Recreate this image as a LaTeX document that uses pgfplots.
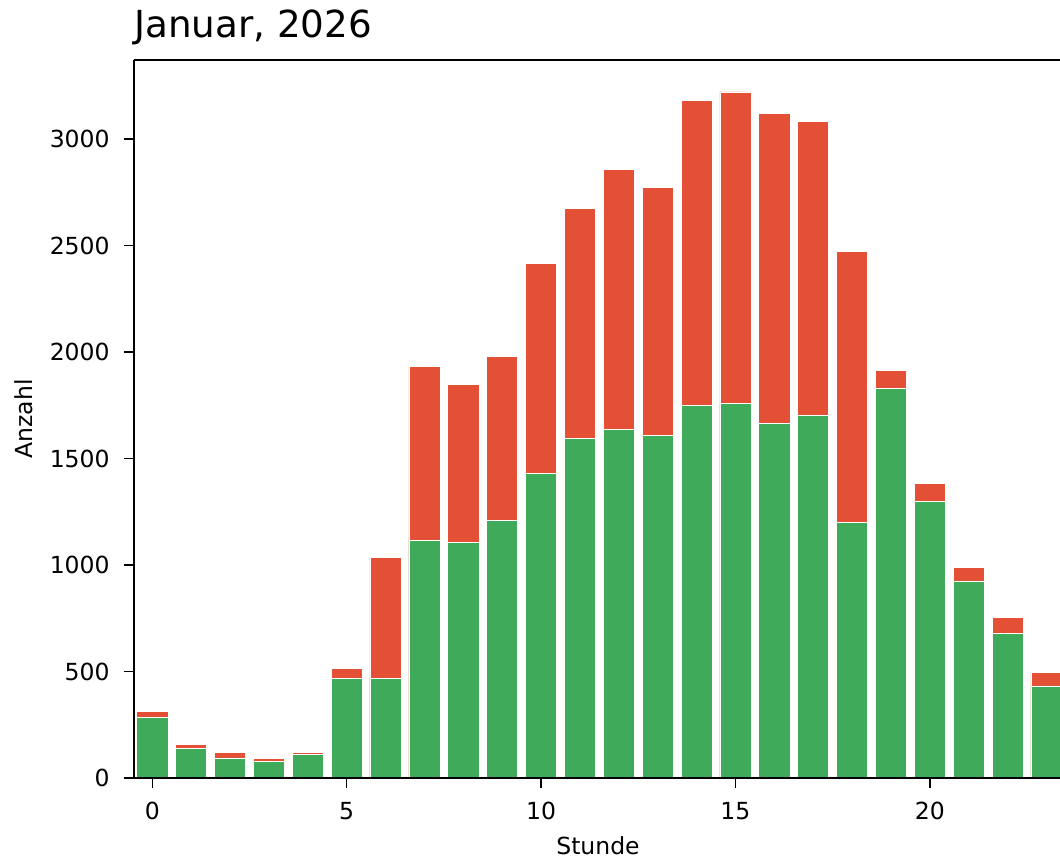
\documentclass[border=0pt]{standalone}
\usepackage{fontspec}
\setmainfont{DejaVu Sans}
\usepackage{pgfplots}
\usepackage{pgfplotstable}
\pgfplotsset{compat=1.18}

\definecolor{barred}{RGB}{228,80,54}
\definecolor{bargreen}{RGB}{62,170,90}

% Stunde, gesamt, gruen
\pgfplotstableread{
h total green
0 311 285
1 158 139
2 122 94
3 92 77
4 122 111
5 513 468
6 1034 468
7 1931 1117
8 1848 1108
9 1978 1208
10 2416 1429
11 2673 1593
12 2856 1638
13 2773 1610
14 3183 1748
15 3221 1757
16 3120 1665
17 3083 1703
18 2471 1199
19 1912 1829
20 1382 1299
21 989 925
22 753 679
23 494 432
}\hourdata

\begin{document}
\begin{tikzpicture}
\useasboundingbox (-67bp,-42bp) rectangle (463bp,389bp);
\begin{axis}[
  scale only axis,
  width=464bp, height=359bp,
  xmin=-0.47, xmax=23.4,
  ymin=0, ymax=3371,
  xtick={0,5,10,15,20},
  ytick={0,500,...,3000},
  axis on top,
  axis x line*=bottom, axis y line*=left,
  axis line style={-, black, line width=0.7bp},
  tick align=outside,
  major tick length=5bp,
  tick style={black, line width=0.7bp},
  /pgf/number format/assume math mode=true,
  /pgf/number format/set thousands separator={},
  scaled y ticks=false,
  yticklabel style={inner sep=0pt, xshift=-7bp, font=\fontsize{11.8}{14}\selectfont},
  xticklabel style={inner sep=0pt, yshift=-7bp, font=\fontsize{11.8}{14}\selectfont},
  ybar, bar width=0.8, bar shift=0pt,
]
\addplot[fill=barred, draw=white, line width=0.3bp] table[x=h, y=total] {\hourdata};
\addplot[fill=bargreen, draw=white, line width=0.3bp] table[x=h, y=green] {\hourdata};
\draw[black, line width=0.7bp] (rel axis cs:0,1) -- (rel axis cs:1,1);
\end{axis}
\node[anchor=base west, inner sep=0pt, font=\fontsize{18.7}{22}\selectfont] at (0bp,370.3bp) {Januar, 2026};
\node[anchor=north, inner sep=0pt, font=\fontsize{11.8}{14}\selectfont] at (232bp,-29bp) {Stunde};
\node[rotate=90, anchor=base, inner sep=0pt, font=\fontsize{11.8}{14}\selectfont] at (-50.8bp,179.5bp) {Anzahl};
\end{tikzpicture}
\end{document}
